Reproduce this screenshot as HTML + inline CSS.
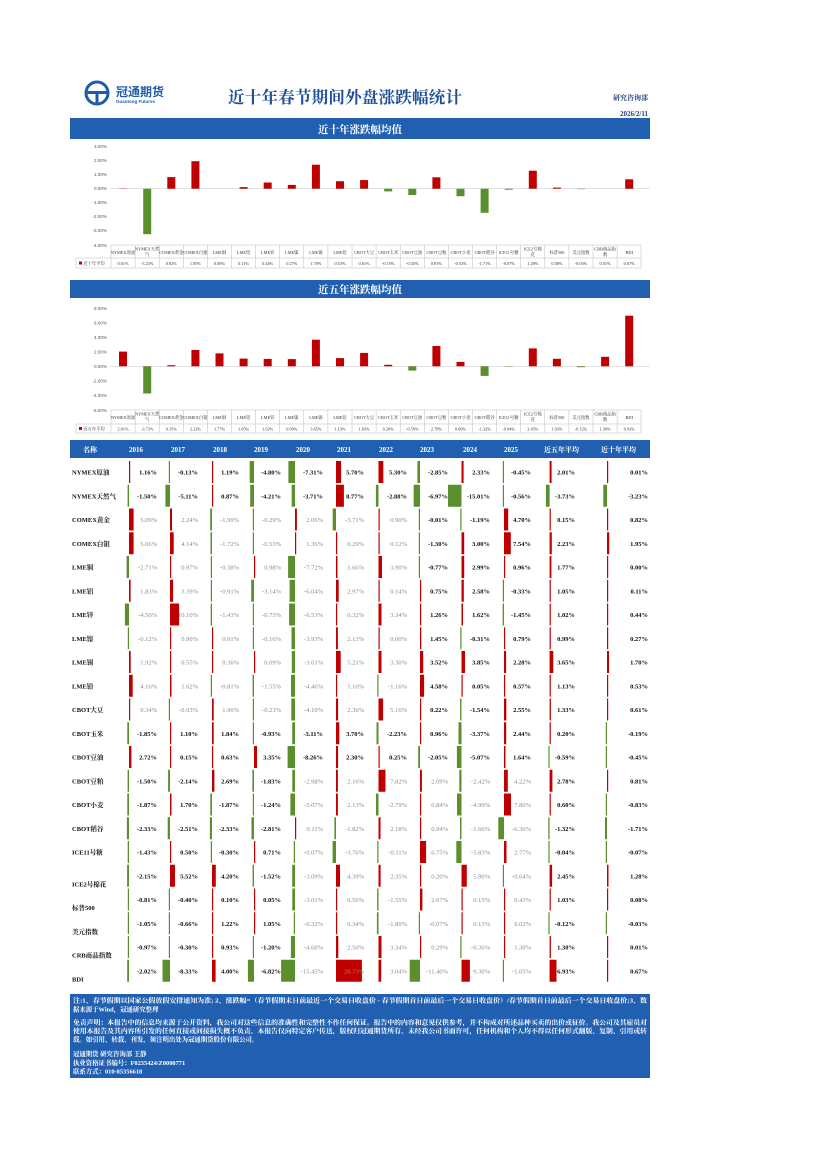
<!DOCTYPE html>
<html><head><meta charset="utf-8"><style>
html,body{margin:0;padding:0;background:#fff}
svg{display:block}
text{font-family:"Liberation Serif","Noto Serif CJK SC",serif}
.d{font-size:6.5px;font-weight:bold;fill:#111;text-anchor:end}
.f{font-size:6.5px;fill:#8a8a8a;text-anchor:end}
.n{font-size:6.5px;font-weight:bold;fill:#111}
.h{font-size:7px;font-weight:bold;fill:#fff}
.r{fill:#c00000}.g{fill:#5b8f2e}
.yl{font-size:4.6px;fill:#555;text-anchor:end;font-family:"Liberation Sans",sans-serif}
.cl{font-size:4.3px;fill:#333;text-anchor:middle;font-family:"Liberation Sans","Noto Sans CJK SC",sans-serif}
.ft{font-size:6.4px;font-weight:bold;fill:#fff}
</style></head><body>
<svg width="826" height="1169" viewBox="0 0 826 1169" xmlns="http://www.w3.org/2000/svg">
<rect width="826" height="1169" fill="#fff"/>
<!-- header -->
<circle cx="97" cy="93" r="11" fill="none" stroke="#1f5cab" stroke-width="3"/>
<rect x="87" y="91" width="20" height="3" fill="#1f5cab"/>
<rect x="95.5" y="91" width="3" height="12" fill="#1f5cab"/>
<text x="116" y="96" style="font-size:12px;font-weight:bold;fill:#1f5cab;font-family:'Liberation Sans','Noto Sans CJK SC',sans-serif">冠通期货</text>
<text x="116" y="103" style="font-size:4.5px;font-weight:bold;fill:#1f5cab;font-family:'Liberation Sans',sans-serif">Guantong Futures</text>
<text x="345" y="103" text-anchor="middle" style="font-size:16.5px;font-weight:bold;fill:#1f4e9a" textLength="234">近十年春节期间外盘涨跌幅统计</text>
<text x="648" y="100" text-anchor="end" style="font-size:7px;font-weight:bold;fill:#1f3f80">研究咨询部</text>
<text x="648" y="116" text-anchor="end" style="font-size:7px;font-weight:bold;fill:#1f3f80">2026/2/11</text>

<!-- band1 -->
<rect x="70" y="118" width="580" height="21" fill="#2160b0"/>
<text x="360" y="133" text-anchor="middle" class="h" style="font-size:10.5px">近十年涨跌幅均值</text>
<!-- chart1 -->
<g>
<text class="yl" x="107" y="148">3.00%</text><text class="yl" x="107" y="162">2.00%</text><text class="yl" x="107" y="176">1.00%</text><text class="yl" x="107" y="190">0.00%</text><text class="yl" x="107" y="204">-1.00%</text><text class="yl" x="107" y="218">-2.00%</text><text class="yl" x="107" y="232">-3.00%</text><text class="yl" x="107" y="247">-4.00%</text>
<line x1="110" y1="188.7" x2="650" y2="188.7" stroke="#d0d0d0" stroke-width="0.6"/>
<rect class="r" x="119" y="188.5" width="8" height="0.3"/>
<rect class="g" x="143.2" y="188.7" width="8" height="45.5"/>
<rect class="r" x="167.3" y="177.1" width="8" height="11.6"/>
<rect class="r" x="191.4" y="161.2" width="8" height="27.5"/>
<rect class="r" x="239.6" y="187.1" width="8" height="1.6"/>
<rect class="r" x="263.7" y="182.5" width="8" height="6.2"/>
<rect class="r" x="287.8" y="184.9" width="8" height="3.8"/>
<rect class="r" x="311.9" y="164.7" width="8" height="24"/>
<rect class="r" x="336" y="181.2" width="8" height="7.5"/>
<rect class="r" x="360.1" y="180.1" width="8" height="8.6"/>
<rect class="g" x="384.2" y="188.7" width="8" height="2.7"/>
<rect class="g" x="408.3" y="188.7" width="8" height="6.3"/>
<rect class="r" x="432.4" y="177.3" width="8" height="11.4"/>
<rect class="g" x="456.5" y="188.7" width="8" height="7.5"/>
<rect class="g" x="480.6" y="188.7" width="8" height="24.1"/>
<rect class="g" x="504.7" y="188.7" width="8" height="1"/>
<rect class="r" x="528.8" y="170.7" width="8" height="18"/>
<rect class="r" x="552.9" y="187.6" width="8" height="1.1"/>
<rect class="g" x="577" y="188.7" width="8" height="0.5"/>
<rect class="r" x="625.2" y="179.3" width="8" height="9.4"/>
<g stroke="#bbb" stroke-width="0.5" fill="none">
<rect x="111" y="245" width="530" height="23"/><line x1="76" y1="258" x2="641" y2="258"/><line x1="76" y1="258" x2="76" y2="268"/><line x1="76" y1="268" x2="111" y2="268"/>
<path d="M135.1 245V268M159.2 245V268M183.3 245V268M207.4 245V268M231.5 245V268M255.6 245V268M279.7 245V268M303.8 245V268M327.9 245V268M352 245V268M376.1 245V268M400.2 245V268M424.3 245V268M448.4 245V268M472.5 245V268M496.6 245V268M520.7 245V268M544.8 245V268M568.9 245V268M593 245V268M617.1 245V268"/>
</g>
<g class="cl">
<text x="123" y="254">NYMEX原油</text><text x="147.2" y="250.5">NYMEX天然</text><text x="147.2" y="256">气</text><text x="171.3" y="254">COMEX黄金</text><text x="195.4" y="254">COMEX白银</text><text x="219.5" y="254">LME铜</text><text x="243.6" y="254">LME铝</text><text x="267.7" y="254">LME锌</text><text x="291.8" y="254">LME镍</text><text x="315.9" y="254">LME锡</text><text x="340" y="254">LME铅</text><text x="364.1" y="254">CBOT大豆</text><text x="388.2" y="254">CBOT玉米</text><text x="412.3" y="254">CBOT豆油</text><text x="436.4" y="254">CBOT豆粕</text><text x="460.5" y="254">CBOT小麦</text><text x="484.6" y="254">CBOT稻谷</text><text x="508.7" y="254">ICE11号糖</text><text x="532.8" y="250.5">ICE2号棉</text><text x="532.8" y="256">花</text><text x="556.9" y="254">标普500</text><text x="581" y="254">美元指数</text><text x="605.1" y="250.5">CRB商品指</text><text x="605.1" y="256">数</text><text x="629.2" y="254">BDI</text>
<text x="123" y="265">0.01%</text><text x="147.2" y="265">-3.23%</text><text x="171.3" y="265">0.82%</text><text x="195.4" y="265">1.95%</text><text x="219.5" y="265">0.00%</text><text x="243.6" y="265">0.11%</text><text x="267.7" y="265">0.44%</text><text x="291.8" y="265">0.27%</text><text x="315.9" y="265">1.70%</text><text x="340" y="265">0.53%</text><text x="364.1" y="265">0.61%</text><text x="388.2" y="265">-0.19%</text><text x="412.3" y="265">-0.45%</text><text x="436.4" y="265">0.81%</text><text x="460.5" y="265">-0.53%</text><text x="484.6" y="265">-1.71%</text><text x="508.7" y="265">-0.07%</text><text x="532.8" y="265">1.28%</text><text x="556.9" y="265">0.08%</text><text x="581" y="265">-0.03%</text><text x="605.1" y="265">0.01%</text><text x="629.2" y="265">0.67%</text>
<text x="94" y="265">近十年平均</text>
</g>
<rect class="r" x="79" y="261.5" width="3" height="3"/>
</g>

<!-- band2 -->
<rect x="70" y="280" width="580" height="18" fill="#2160b0"/>
<text x="360" y="293" text-anchor="middle" class="h" style="font-size:10.5px">近五年涨跌幅均值</text>
<g>
<text class="yl" x="107" y="310">8.00%</text><text class="yl" x="107" y="324.5">6.00%</text><text class="yl" x="107" y="339">4.00%</text><text class="yl" x="107" y="353.5">2.00%</text><text class="yl" x="107" y="368">0.00%</text><text class="yl" x="107" y="382.5">-2.00%</text><text class="yl" x="107" y="397">-4.00%</text><text class="yl" x="107" y="412">-6.00%</text>
<line x1="110" y1="366.3" x2="650" y2="366.3" stroke="#d0d0d0" stroke-width="0.6"/>
<rect class="r" x="119" y="351.6" width="8" height="14.7"/>
<rect class="g" x="143.2" y="366.3" width="8" height="27.2"/>
<rect class="r" x="167.3" y="365.2" width="8" height="1.1"/>
<rect class="r" x="191.4" y="350" width="8" height="16.3"/>
<rect class="r" x="215.5" y="353.4" width="8" height="12.9"/>
<rect class="r" x="239.6" y="358.6" width="8" height="7.7"/>
<rect class="r" x="263.7" y="358.9" width="8" height="7.4"/>
<rect class="r" x="287.8" y="359.1" width="8" height="7.2"/>
<rect class="r" x="311.9" y="339.7" width="8" height="26.6"/>
<rect class="r" x="336" y="358.1" width="8" height="8.2"/>
<rect class="r" x="360.1" y="352.9" width="8" height="13.4"/>
<rect class="r" x="384.2" y="364.8" width="8" height="1.5"/>
<rect class="g" x="408.3" y="366.3" width="8" height="4.3"/>
<rect class="r" x="432.4" y="346" width="8" height="20.3"/>
<rect class="r" x="456.5" y="361.9" width="8" height="4.4"/>
<rect class="g" x="480.6" y="366.3" width="8" height="9.6"/>
<rect class="g" x="504.7" y="366.3" width="8" height="0.4"/>
<rect class="r" x="528.8" y="348.4" width="8" height="17.9"/>
<rect class="r" x="552.9" y="358.8" width="8" height="7.5"/>
<rect class="g" x="577" y="366.3" width="8" height="0.9"/>
<rect class="r" x="601.1" y="356.8" width="8" height="9.5"/>
<rect class="r" x="625.2" y="315.7" width="8" height="50.6"/>
<g stroke="#bbb" stroke-width="0.5" fill="none">
<rect x="111" y="410" width="530" height="23"/><line x1="76" y1="424" x2="641" y2="424"/><line x1="76" y1="424" x2="76" y2="433"/><line x1="76" y1="433" x2="111" y2="433"/>
<path d="M135.1 410V433M159.2 410V433M183.3 410V433M207.4 410V433M231.5 410V433M255.6 410V433M279.7 410V433M303.8 410V433M327.9 410V433M352 410V433M376.1 410V433M400.2 410V433M424.3 410V433M448.4 410V433M472.5 410V433M496.6 410V433M520.7 410V433M544.8 410V433M568.9 410V433M593 410V433M617.1 410V433"/>
</g>
<g class="cl">
<text x="123" y="419">NYMEX原油</text><text x="147.2" y="415.5">NYMEX天然</text><text x="147.2" y="421">气</text><text x="171.3" y="419">COMEX黄金</text><text x="195.4" y="419">COMEX白银</text><text x="219.5" y="419">LME铜</text><text x="243.6" y="419">LME铝</text><text x="267.7" y="419">LME锌</text><text x="291.8" y="419">LME镍</text><text x="315.9" y="419">LME锡</text><text x="340" y="419">LME铅</text><text x="364.1" y="419">CBOT大豆</text><text x="388.2" y="419">CBOT玉米</text><text x="412.3" y="419">CBOT豆油</text><text x="436.4" y="419">CBOT豆粕</text><text x="460.5" y="419">CBOT小麦</text><text x="484.6" y="419">CBOT稻谷</text><text x="508.7" y="419">ICE11号糖</text><text x="532.8" y="415.5">ICE2号棉</text><text x="532.8" y="421">花</text><text x="556.9" y="419">标普500</text><text x="581" y="419">美元指数</text><text x="605.1" y="415.5">CRB商品指</text><text x="605.1" y="421">数</text><text x="629.2" y="419">BDI</text>
<text x="123" y="430.5">2.01%</text><text x="147.2" y="430.5">-3.73%</text><text x="171.3" y="430.5">0.15%</text><text x="195.4" y="430.5">2.23%</text><text x="219.5" y="430.5">1.77%</text><text x="243.6" y="430.5">1.05%</text><text x="267.7" y="430.5">1.02%</text><text x="291.8" y="430.5">0.99%</text><text x="315.9" y="430.5">3.65%</text><text x="340" y="430.5">1.13%</text><text x="364.1" y="430.5">1.83%</text><text x="388.2" y="430.5">0.20%</text><text x="412.3" y="430.5">-0.59%</text><text x="436.4" y="430.5">2.78%</text><text x="460.5" y="430.5">0.60%</text><text x="484.6" y="430.5">-1.32%</text><text x="508.7" y="430.5">-0.04%</text><text x="532.8" y="430.5">2.45%</text><text x="556.9" y="430.5">1.03%</text><text x="581" y="430.5">-0.12%</text><text x="605.1" y="430.5">1.30%</text><text x="629.2" y="430.5">6.93%</text>
<text x="94" y="430.5">近五年平均</text>
</g>
<rect class="r" x="79" y="427" width="3" height="3"/>
</g>

<!-- table header -->
<rect x="70" y="440" width="580" height="18" fill="#2160b0"/>
<g class="h"><text x="83" y="452">名称</text><text x="129" y="452">2016</text><text x="171" y="452">2017</text><text x="213" y="452">2018</text><text x="254" y="452">2019</text><text x="296" y="452">2020</text><text x="337" y="452">2021</text><text x="379" y="452">2022</text><text x="420" y="452">2023</text><text x="463" y="452">2024</text><text x="504" y="452">2025</text><text x="544" y="452">近五年平均</text><text x="601" y="452">近十年平均</text></g>

<!-- rows -->
<g transform="translate(0,472)"><text class="n" x="72" y="2.5">NYMEX原油</text>
<rect class="r" x="129" y="-11" width="1.2" height="22"/><rect class="g" x="168.8" y="-11" width="1.2" height="22"/><rect class="r" x="212" y="-11" width="1.2" height="22"/><rect class="g" x="249.7" y="-11" width="4.3" height="22"/><rect class="g" x="288.4" y="-11" width="6.6" height="22"/><rect class="r" x="336" y="-11" width="5.1" height="22"/><rect class="r" x="378.5" y="-11" width="4.8" height="22"/><rect class="g" x="417.4" y="-11" width="2.6" height="22"/><rect class="r" x="461.5" y="-11" width="2.1" height="22"/><rect class="g" x="502.8" y="-11" width="1.2" height="22"/><rect class="r" x="549.6" y="-11" width="2" height="22"/><rect class="r" x="607" y="-11" width="1.2" height="22"/>
<text class="d" x="157" y="2.5">1.16%</text><text class="d" x="198" y="2.5">-0.13%</text><text class="d" x="239" y="2.5">1.19%</text><text class="d" x="281" y="2.5">-4.80%</text><text class="d" x="323" y="2.5">-7.31%</text><text class="d" x="364" y="2.5">5.70%</text><text class="d" x="407" y="2.5">5.30%</text><text class="d" x="448" y="2.5">-2.85%</text><text class="d" x="490" y="2.5">2.33%</text><text class="d" x="531" y="2.5">-0.45%</text><text class="d" x="575" y="2.5">2.01%</text><text class="d" x="648" y="2.5">0.01%</text></g>

<g transform="translate(0,495.75)"><text class="n" x="72" y="2.5">NYMEX天然气</text>
<rect class="g" x="127.6" y="-11" width="1.4" height="22"/><rect class="g" x="165.4" y="-11" width="4.6" height="22"/><rect class="r" x="212" y="-11" width="1.2" height="22"/><rect class="g" x="250.2" y="-11" width="3.8" height="22"/><rect class="g" x="291.7" y="-11" width="3.3" height="22"/><rect class="r" x="336" y="-11" width="7.9" height="22"/><rect class="g" x="375.9" y="-11" width="2.6" height="22"/><rect class="g" x="413.7" y="-11" width="6.3" height="22"/><rect class="g" x="448" y="-11" width="13.5" height="22"/><rect class="g" x="502.8" y="-11" width="1.2" height="22"/><rect class="g" x="545.9" y="-11" width="3.7" height="22"/><rect class="g" x="603.3" y="-11" width="3.7" height="22"/>
<text class="d" x="157" y="2.5">-1.50%</text><text class="d" x="198" y="2.5">-5.11%</text><text class="d" x="239" y="2.5">0.87%</text><text class="d" x="281" y="2.5">-4.21%</text><text class="d" x="323" y="2.5">-3.71%</text><text class="d" x="364" y="2.5">8.77%</text><text class="d" x="407" y="2.5">-2.88%</text><text class="d" x="448" y="2.5">-6.97%</text><text class="d" x="490" y="2.5">-15.01%</text><text class="d" x="531" y="2.5">-0.56%</text><text class="d" x="575" y="2.5">-3.73%</text><text class="d" x="648" y="2.5">-3.23%</text></g>

<g transform="translate(0,519.5)"><text class="n" x="72" y="2.5">COMEX黄金</text>
<rect class="r" x="129" y="-11" width="4.6" height="22"/><rect class="r" x="170" y="-11" width="2" height="22"/><rect class="g" x="210.2" y="-11" width="1.8" height="22"/><rect class="g" x="252.8" y="-11" width="1.2" height="22"/><rect class="r" x="295" y="-11" width="1.9" height="22"/><rect class="g" x="332.7" y="-11" width="3.3" height="22"/><rect class="r" x="378.5" y="-11" width="1.2" height="22"/><rect class="g" x="418.8" y="-11" width="1.2" height="22"/><rect class="g" x="460.3" y="-11" width="1.2" height="22"/><rect class="r" x="504" y="-11" width="4.2" height="22"/><rect class="r" x="549.6" y="-11" width="1.2" height="22"/><rect class="r" x="607" y="-11" width="1.2" height="22"/>
<text class="f" x="157" y="2.5">5.09%</text><text class="f" x="198" y="2.5">2.24%</text><text class="f" x="239" y="2.5">-1.99%</text><text class="f" x="281" y="2.5">-0.29%</text><text class="f" x="323" y="2.5">2.06%</text><text class="f" x="364" y="2.5">-3.71%</text><text class="f" x="407" y="2.5">0.90%</text><text class="d" x="448" y="2.5">-0.01%</text><text class="d" x="490" y="2.5">-1.19%</text><text class="d" x="531" y="2.5">4.70%</text><text class="d" x="575" y="2.5">0.15%</text><text class="d" x="648" y="2.5">0.82%</text></g>

<g transform="translate(0,543.25)"><text class="n" x="72" y="2.5">COMEX白银</text>
<rect class="r" x="129" y="-11" width="4.6" height="22"/><rect class="r" x="170" y="-11" width="3.7" height="22"/><rect class="g" x="210.5" y="-11" width="1.5" height="22"/><rect class="g" x="252.8" y="-11" width="1.2" height="22"/><rect class="r" x="295" y="-11" width="1.2" height="22"/><rect class="r" x="336" y="-11" width="1.2" height="22"/><rect class="r" x="378.5" y="-11" width="1.2" height="22"/><rect class="g" x="418.8" y="-11" width="1.2" height="22"/><rect class="r" x="461.5" y="-11" width="2.7" height="22"/><rect class="r" x="504" y="-11" width="6.8" height="22"/><rect class="r" x="549.6" y="-11" width="2.2" height="22"/><rect class="r" x="607" y="-11" width="2.2" height="22"/>
<text class="f" x="157" y="2.5">5.06%</text><text class="f" x="198" y="2.5">4.14%</text><text class="f" x="239" y="2.5">-1.72%</text><text class="f" x="281" y="2.5">-0.53%</text><text class="f" x="323" y="2.5">1.36%</text><text class="f" x="364" y="2.5">0.29%</text><text class="f" x="407" y="2.5">0.12%</text><text class="d" x="448" y="2.5">-1.30%</text><text class="d" x="490" y="2.5">3.00%</text><text class="d" x="531" y="2.5">7.54%</text><text class="d" x="575" y="2.5">2.23%</text><text class="d" x="648" y="2.5">1.95%</text></g>

<g transform="translate(0,567)"><text class="n" x="72" y="2.5">LME铜</text>
<rect class="g" x="126.6" y="-11" width="2.4" height="22"/><rect class="r" x="170" y="-11" width="1.2" height="22"/><rect class="g" x="210.8" y="-11" width="1.2" height="22"/><rect class="r" x="254" y="-11" width="1.2" height="22"/><rect class="g" x="288.1" y="-11" width="6.9" height="22"/><rect class="r" x="336" y="-11" width="1.5" height="22"/><rect class="r" x="378.5" y="-11" width="3.5" height="22"/><rect class="g" x="418.8" y="-11" width="1.2" height="22"/><rect class="r" x="461.5" y="-11" width="2.7" height="22"/><rect class="r" x="504" y="-11" width="1.2" height="22"/><rect class="r" x="549.6" y="-11" width="1.8" height="22"/><rect class="r" x="607" y="-11" width="1.2" height="22"/>
<text class="f" x="157" y="2.5">-2.71%</text><text class="f" x="198" y="2.5">0.97%</text><text class="f" x="239" y="2.5">-0.38%</text><text class="f" x="281" y="2.5">0.98%</text><text class="f" x="323" y="2.5">-7.72%</text><text class="f" x="364" y="2.5">1.66%</text><text class="f" x="407" y="2.5">3.90%</text><text class="d" x="448" y="2.5">-0.77%</text><text class="d" x="490" y="2.5">2.99%</text><text class="d" x="531" y="2.5">0.96%</text><text class="d" x="575" y="2.5">1.77%</text><text class="d" x="648" y="2.5">0.00%</text></g>

<g transform="translate(0,590.75)"><text class="n" x="72" y="2.5">LME铝</text>
<rect class="r" x="129" y="-11" width="1.6" height="22"/><rect class="r" x="170" y="-11" width="3.1" height="22"/><rect class="g" x="210.8" y="-11" width="1.2" height="22"/><rect class="g" x="251.2" y="-11" width="2.8" height="22"/><rect class="g" x="289.6" y="-11" width="5.4" height="22"/><rect class="r" x="336" y="-11" width="2.7" height="22"/><rect class="r" x="378.5" y="-11" width="1.2" height="22"/><rect class="r" x="420" y="-11" width="1.2" height="22"/><rect class="r" x="461.5" y="-11" width="2.3" height="22"/><rect class="g" x="502.8" y="-11" width="1.2" height="22"/><rect class="r" x="549.6" y="-11" width="1.2" height="22"/><rect class="r" x="607" y="-11" width="1.2" height="22"/>
<text class="f" x="157" y="2.5">1.83%</text><text class="f" x="198" y="2.5">3.39%</text><text class="f" x="239" y="2.5">-0.91%</text><text class="f" x="281" y="2.5">-3.14%</text><text class="f" x="323" y="2.5">-6.04%</text><text class="f" x="364" y="2.5">2.97%</text><text class="f" x="407" y="2.5">0.14%</text><text class="d" x="448" y="2.5">0.75%</text><text class="d" x="490" y="2.5">2.58%</text><text class="d" x="531" y="2.5">-0.33%</text><text class="d" x="575" y="2.5">1.05%</text><text class="d" x="648" y="2.5">0.11%</text></g>

<g transform="translate(0,614.5)"><text class="n" x="72" y="2.5">LME锌</text>
<rect class="g" x="124.9" y="-11" width="4.1" height="22"/><rect class="r" x="170" y="-11" width="9.1" height="22"/><rect class="g" x="210.7" y="-11" width="1.3" height="22"/><rect class="g" x="252.8" y="-11" width="1.2" height="22"/><rect class="g" x="289.1" y="-11" width="5.9" height="22"/><rect class="r" x="336" y="-11" width="1.2" height="22"/><rect class="r" x="378.5" y="-11" width="3" height="22"/><rect class="r" x="420" y="-11" width="1.2" height="22"/><rect class="r" x="461.5" y="-11" width="1.5" height="22"/><rect class="g" x="502.7" y="-11" width="1.3" height="22"/><rect class="r" x="549.6" y="-11" width="1.2" height="22"/><rect class="r" x="607" y="-11" width="1.2" height="22"/>
<text class="f" x="157" y="2.5">-4.50%</text><text class="f" x="198" y="2.5">10.10%</text><text class="f" x="239" y="2.5">-1.43%</text><text class="f" x="281" y="2.5">-0.73%</text><text class="f" x="323" y="2.5">-6.53%</text><text class="f" x="364" y="2.5">0.32%</text><text class="f" x="407" y="2.5">3.34%</text><text class="d" x="448" y="2.5">1.26%</text><text class="d" x="490" y="2.5">1.62%</text><text class="d" x="531" y="2.5">-1.45%</text><text class="d" x="575" y="2.5">1.02%</text><text class="d" x="648" y="2.5">0.44%</text></g>

<g transform="translate(0,638.25)"><text class="n" x="72" y="2.5">LME镍</text>
<rect class="g" x="127.8" y="-11" width="1.2" height="22"/><rect class="r" x="170" y="-11" width="1.2" height="22"/><rect class="r" x="212" y="-11" width="1.2" height="22"/><rect class="g" x="252.8" y="-11" width="1.2" height="22"/><rect class="g" x="291.5" y="-11" width="3.5" height="22"/><rect class="r" x="336" y="-11" width="1.9" height="22"/><rect class="r" x="378.5" y="-11" width="1.2" height="22"/><rect class="r" x="420" y="-11" width="1.3" height="22"/><rect class="g" x="460.3" y="-11" width="1.2" height="22"/><rect class="r" x="504" y="-11" width="1.2" height="22"/><rect class="r" x="549.6" y="-11" width="1.2" height="22"/><rect class="r" x="607" y="-11" width="1.2" height="22"/>
<text class="f" x="157" y="2.5">-0.12%</text><text class="f" x="198" y="2.5">0.90%</text><text class="f" x="239" y="2.5">0.91%</text><text class="f" x="281" y="2.5">-0.16%</text><text class="f" x="323" y="2.5">-3.93%</text><text class="f" x="364" y="2.5">2.13%</text><text class="f" x="407" y="2.5">0.00%</text><text class="d" x="448" y="2.5">1.45%</text><text class="d" x="490" y="2.5">-0.31%</text><text class="d" x="531" y="2.5">0.79%</text><text class="d" x="575" y="2.5">0.99%</text><text class="d" x="648" y="2.5">0.27%</text></g>

<g transform="translate(0,662)"><text class="n" x="72" y="2.5">LME锡</text>
<rect class="r" x="129" y="-11" width="1.7" height="22"/><rect class="r" x="170" y="-11" width="1.2" height="22"/><rect class="r" x="212" y="-11" width="1.2" height="22"/><rect class="r" x="254" y="-11" width="1.2" height="22"/><rect class="g" x="291.8" y="-11" width="3.2" height="22"/><rect class="r" x="336" y="-11" width="4.7" height="22"/><rect class="r" x="378.5" y="-11" width="3" height="22"/><rect class="r" x="420" y="-11" width="3.2" height="22"/><rect class="r" x="461.5" y="-11" width="3.5" height="22"/><rect class="r" x="504" y="-11" width="2.1" height="22"/><rect class="r" x="549.6" y="-11" width="3.7" height="22"/><rect class="r" x="607" y="-11" width="2" height="22"/>
<text class="f" x="157" y="2.5">1.92%</text><text class="f" x="198" y="2.5">0.55%</text><text class="f" x="239" y="2.5">0.36%</text><text class="f" x="281" y="2.5">0.09%</text><text class="f" x="323" y="2.5">-3.61%</text><text class="f" x="364" y="2.5">5.21%</text><text class="f" x="407" y="2.5">3.30%</text><text class="d" x="448" y="2.5">3.52%</text><text class="d" x="490" y="2.5">3.85%</text><text class="d" x="531" y="2.5">2.28%</text><text class="d" x="575" y="2.5">3.65%</text><text class="d" x="648" y="2.5">1.70%</text></g>

<g transform="translate(0,685.75)"><text class="n" x="72" y="2.5">LME铅</text>
<rect class="r" x="129" y="-11" width="3.7" height="22"/><rect class="r" x="170" y="-11" width="1.5" height="22"/><rect class="g" x="210.8" y="-11" width="1.2" height="22"/><rect class="g" x="252.6" y="-11" width="1.4" height="22"/><rect class="g" x="291" y="-11" width="4" height="22"/><rect class="r" x="336" y="-11" width="1.2" height="22"/><rect class="g" x="377.3" y="-11" width="1.2" height="22"/><rect class="r" x="420" y="-11" width="4.1" height="22"/><rect class="r" x="461.5" y="-11" width="1.2" height="22"/><rect class="r" x="504" y="-11" width="1.2" height="22"/><rect class="r" x="549.6" y="-11" width="1.2" height="22"/><rect class="r" x="607" y="-11" width="1.2" height="22"/>
<text class="f" x="157" y="2.5">4.16%</text><text class="f" x="198" y="2.5">1.62%</text><text class="f" x="239" y="2.5">-0.81%</text><text class="f" x="281" y="2.5">-1.55%</text><text class="f" x="323" y="2.5">-4.46%</text><text class="f" x="364" y="2.5">1.10%</text><text class="f" x="407" y="2.5">-1.16%</text><text class="d" x="448" y="2.5">4.58%</text><text class="d" x="490" y="2.5">0.05%</text><text class="d" x="531" y="2.5">0.57%</text><text class="d" x="575" y="2.5">1.13%</text><text class="d" x="648" y="2.5">0.53%</text></g>

<g transform="translate(0,709.5)"><text class="n" x="72" y="2.5">CBOT大豆</text>
<rect class="r" x="129" y="-11" width="1.2" height="22"/><rect class="g" x="168.8" y="-11" width="1.2" height="22"/><rect class="r" x="212" y="-11" width="1.7" height="22"/><rect class="g" x="252.8" y="-11" width="1.2" height="22"/><rect class="g" x="291.3" y="-11" width="3.7" height="22"/><rect class="r" x="336" y="-11" width="2.1" height="22"/><rect class="r" x="378.5" y="-11" width="4.6" height="22"/><rect class="r" x="420" y="-11" width="1.2" height="22"/><rect class="g" x="460.1" y="-11" width="1.4" height="22"/><rect class="r" x="504" y="-11" width="2.3" height="22"/><rect class="r" x="549.6" y="-11" width="1.3" height="22"/><rect class="r" x="607" y="-11" width="1.2" height="22"/>
<text class="f" x="157" y="2.5">0.34%</text><text class="f" x="198" y="2.5">-0.93%</text><text class="f" x="239" y="2.5">1.90%</text><text class="f" x="281" y="2.5">-0.23%</text><text class="f" x="323" y="2.5">-4.10%</text><text class="f" x="364" y="2.5">2.36%</text><text class="f" x="407" y="2.5">5.16%</text><text class="d" x="448" y="2.5">0.22%</text><text class="d" x="490" y="2.5">-1.54%</text><text class="d" x="531" y="2.5">2.55%</text><text class="d" x="575" y="2.5">1.33%</text><text class="d" x="648" y="2.5">0.61%</text></g>

<g transform="translate(0,733.25)"><text class="n" x="72" y="2.5">CBOT玉米</text>
<rect class="g" x="127.3" y="-11" width="1.7" height="22"/><rect class="r" x="170" y="-11" width="1.2" height="22"/><rect class="r" x="212" y="-11" width="1.7" height="22"/><rect class="g" x="252.8" y="-11" width="1.2" height="22"/><rect class="g" x="292.2" y="-11" width="2.8" height="22"/><rect class="r" x="336" y="-11" width="3.3" height="22"/><rect class="g" x="376.5" y="-11" width="2" height="22"/><rect class="r" x="420" y="-11" width="1.2" height="22"/><rect class="g" x="458.5" y="-11" width="3" height="22"/><rect class="r" x="504" y="-11" width="2.2" height="22"/><rect class="r" x="549.6" y="-11" width="1.2" height="22"/><rect class="g" x="605.8" y="-11" width="1.2" height="22"/>
<text class="d" x="157" y="2.5">-1.85%</text><text class="d" x="198" y="2.5">1.10%</text><text class="d" x="239" y="2.5">1.84%</text><text class="d" x="281" y="2.5">-0.93%</text><text class="d" x="323" y="2.5">-3.11%</text><text class="d" x="364" y="2.5">3.70%</text><text class="d" x="407" y="2.5">-2.23%</text><text class="d" x="448" y="2.5">0.96%</text><text class="d" x="490" y="2.5">-3.37%</text><text class="d" x="531" y="2.5">2.44%</text><text class="d" x="575" y="2.5">0.20%</text><text class="d" x="648" y="2.5">-0.19%</text></g>

<g transform="translate(0,757)"><text class="n" x="72" y="2.5">CBOT豆油</text>
<rect class="r" x="129" y="-11" width="2.4" height="22"/><rect class="r" x="170" y="-11" width="1.2" height="22"/><rect class="r" x="212" y="-11" width="1.2" height="22"/><rect class="r" x="254" y="-11" width="3" height="22"/><rect class="g" x="287.6" y="-11" width="7.4" height="22"/><rect class="r" x="336" y="-11" width="2.1" height="22"/><rect class="r" x="378.5" y="-11" width="1.2" height="22"/><rect class="g" x="418.2" y="-11" width="1.8" height="22"/><rect class="g" x="456.9" y="-11" width="4.6" height="22"/><rect class="r" x="504" y="-11" width="1.5" height="22"/><rect class="g" x="548.4" y="-11" width="1.2" height="22"/><rect class="g" x="605.8" y="-11" width="1.2" height="22"/>
<text class="d" x="157" y="2.5">2.72%</text><text class="d" x="198" y="2.5">0.15%</text><text class="d" x="239" y="2.5">0.63%</text><text class="d" x="281" y="2.5">3.35%</text><text class="d" x="323" y="2.5">-8.26%</text><text class="d" x="364" y="2.5">2.30%</text><text class="d" x="407" y="2.5">0.25%</text><text class="d" x="448" y="2.5">-2.05%</text><text class="d" x="490" y="2.5">-5.07%</text><text class="d" x="531" y="2.5">1.64%</text><text class="d" x="575" y="2.5">-0.59%</text><text class="d" x="648" y="2.5">-0.45%</text></g>

<g transform="translate(0,780.75)"><text class="n" x="72" y="2.5">CBOT豆粕</text>
<rect class="g" x="127.6" y="-11" width="1.4" height="22"/><rect class="g" x="168.1" y="-11" width="1.9" height="22"/><rect class="r" x="212" y="-11" width="2.4" height="22"/><rect class="g" x="252.4" y="-11" width="1.6" height="22"/><rect class="g" x="292.3" y="-11" width="2.7" height="22"/><rect class="r" x="336" y="-11" width="1.9" height="22"/><rect class="r" x="378.5" y="-11" width="7" height="22"/><rect class="r" x="420" y="-11" width="1.9" height="22"/><rect class="g" x="459.3" y="-11" width="2.2" height="22"/><rect class="r" x="504" y="-11" width="3.8" height="22"/><rect class="r" x="549.6" y="-11" width="2.8" height="22"/><rect class="r" x="607" y="-11" width="1.2" height="22"/>
<text class="d" x="157" y="2.5">-1.50%</text><text class="d" x="198" y="2.5">-2.14%</text><text class="d" x="239" y="2.5">2.69%</text><text class="d" x="281" y="2.5">-1.83%</text><text class="f" x="323" y="2.5">-2.98%</text><text class="f" x="364" y="2.5">2.16%</text><text class="f" x="407" y="2.5">7.82%</text><text class="f" x="448" y="2.5">2.09%</text><text class="f" x="490" y="2.5">-2.42%</text><text class="f" x="531" y="2.5">4.22%</text><text class="d" x="575" y="2.5">2.78%</text><text class="d" x="648" y="2.5">0.81%</text></g>

<g transform="translate(0,804.5)"><text class="n" x="72" y="2.5">CBOT小麦</text>
<rect class="g" x="127.3" y="-11" width="1.7" height="22"/><rect class="r" x="170" y="-11" width="1.5" height="22"/><rect class="g" x="210.3" y="-11" width="1.7" height="22"/><rect class="g" x="252.8" y="-11" width="1.2" height="22"/><rect class="g" x="290.4" y="-11" width="4.6" height="22"/><rect class="r" x="336" y="-11" width="1.9" height="22"/><rect class="g" x="376" y="-11" width="2.5" height="22"/><rect class="r" x="420" y="-11" width="1.2" height="22"/><rect class="g" x="457" y="-11" width="4.5" height="22"/><rect class="r" x="504" y="-11" width="7" height="22"/><rect class="r" x="549.6" y="-11" width="1.2" height="22"/><rect class="g" x="605.8" y="-11" width="1.2" height="22"/>
<text class="d" x="157" y="2.5">-1.87%</text><text class="d" x="198" y="2.5">1.70%</text><text class="d" x="239" y="2.5">-1.87%</text><text class="d" x="281" y="2.5">-1.24%</text><text class="f" x="323" y="2.5">-5.07%</text><text class="f" x="364" y="2.5">2.13%</text><text class="f" x="407" y="2.5">-2.79%</text><text class="f" x="448" y="2.5">0.84%</text><text class="f" x="490" y="2.5">-4.99%</text><text class="f" x="531" y="2.5">7.80%</text><text class="d" x="575" y="2.5">0.60%</text><text class="d" x="648" y="2.5">-0.83%</text></g>

<g transform="translate(0,828.25)"><text class="n" x="72" y="2.5">CBOT稻谷</text>
<rect class="g" x="126.9" y="-11" width="2.1" height="22"/><rect class="g" x="167.7" y="-11" width="2.3" height="22"/><rect class="g" x="209.9" y="-11" width="2.1" height="22"/><rect class="g" x="251.5" y="-11" width="2.5" height="22"/><rect class="r" x="295" y="-11" width="1.2" height="22"/><rect class="g" x="334.4" y="-11" width="1.6" height="22"/><rect class="r" x="378.5" y="-11" width="2" height="22"/><rect class="r" x="420" y="-11" width="1.2" height="22"/><rect class="g" x="460" y="-11" width="1.5" height="22"/><rect class="g" x="498.3" y="-11" width="5.7" height="22"/><rect class="g" x="548.3" y="-11" width="1.3" height="22"/><rect class="g" x="605" y="-11" width="2" height="22"/>
<text class="d" x="157" y="2.5">-2.33%</text><text class="d" x="198" y="2.5">-2.51%</text><text class="d" x="239" y="2.5">-2.33%</text><text class="d" x="281" y="2.5">-2.81%</text><text class="f" x="323" y="2.5">0.11%</text><text class="f" x="364" y="2.5">-1.82%</text><text class="f" x="407" y="2.5">2.18%</text><text class="f" x="448" y="2.5">0.94%</text><text class="f" x="490" y="2.5">-1.66%</text><text class="f" x="531" y="2.5">-6.36%</text><text class="d" x="575" y="2.5">-1.32%</text><text class="d" x="648" y="2.5">-1.71%</text></g>

<g transform="translate(0,852)"><text class="n" x="72" y="2.5">ICE11号糖</text>
<rect class="g" x="127.7" y="-11" width="1.3" height="22"/><rect class="r" x="170" y="-11" width="1.2" height="22"/><rect class="g" x="210.8" y="-11" width="1.2" height="22"/><rect class="r" x="254" y="-11" width="1.2" height="22"/><rect class="g" x="293.8" y="-11" width="1.2" height="22"/><rect class="g" x="332.6" y="-11" width="3.4" height="22"/><rect class="g" x="377.3" y="-11" width="1.2" height="22"/><rect class="r" x="420" y="-11" width="6.1" height="22"/><rect class="g" x="456.3" y="-11" width="5.2" height="22"/><rect class="r" x="504" y="-11" width="2.5" height="22"/><rect class="g" x="548.4" y="-11" width="1.2" height="22"/><rect class="g" x="605.8" y="-11" width="1.2" height="22"/>
<text class="d" x="157" y="2.5">-1.43%</text><text class="d" x="198" y="2.5">0.50%</text><text class="d" x="239" y="2.5">-0.30%</text><text class="d" x="281" y="2.5">0.71%</text><text class="f" x="323" y="2.5">-0.07%</text><text class="f" x="364" y="2.5">-3.76%</text><text class="f" x="407" y="2.5">-0.11%</text><text class="f" x="448" y="2.5">6.75%</text><text class="f" x="490" y="2.5">-5.83%</text><text class="f" x="531" y="2.5">2.77%</text><text class="d" x="575" y="2.5">-0.04%</text><text class="d" x="648" y="2.5">-0.07%</text></g>

<g transform="translate(0,875.75)"><text class="n" x="72" y="10.5">ICE2号棉花</text>
<rect class="g" x="127.1" y="-11" width="1.9" height="22"/><rect class="r" x="170" y="-11" width="5" height="22"/><rect class="r" x="212" y="-11" width="3.8" height="22"/><rect class="g" x="252.6" y="-11" width="1.4" height="22"/><rect class="g" x="292.2" y="-11" width="2.8" height="22"/><rect class="r" x="336" y="-11" width="4" height="22"/><rect class="r" x="378.5" y="-11" width="2.1" height="22"/><rect class="r" x="420" y="-11" width="1.2" height="22"/><rect class="r" x="461.5" y="-11" width="5.3" height="22"/><rect class="g" x="502.8" y="-11" width="1.2" height="22"/><rect class="r" x="549.6" y="-11" width="2.5" height="22"/><rect class="r" x="607" y="-11" width="1.5" height="22"/>
<text class="d" x="157" y="2.5">-2.15%</text><text class="d" x="198" y="2.5">5.52%</text><text class="d" x="239" y="2.5">4.20%</text><text class="d" x="281" y="2.5">-1.52%</text><text class="f" x="323" y="2.5">-3.09%</text><text class="f" x="364" y="2.5">4.39%</text><text class="f" x="407" y="2.5">2.35%</text><text class="f" x="448" y="2.5">0.20%</text><text class="f" x="490" y="2.5">5.90%</text><text class="f" x="531" y="2.5">-0.64%</text><text class="d" x="575" y="2.5">2.45%</text><text class="d" x="648" y="2.5">1.28%</text></g>

<g transform="translate(0,899.5)"><text class="n" x="72" y="10.5">标普500</text>
<rect class="g" x="127.8" y="-11" width="1.2" height="22"/><rect class="g" x="168.8" y="-11" width="1.2" height="22"/><rect class="r" x="212" y="-11" width="1.2" height="22"/><rect class="r" x="254" y="-11" width="1.2" height="22"/><rect class="g" x="292.3" y="-11" width="2.7" height="22"/><rect class="r" x="336" y="-11" width="1.2" height="22"/><rect class="g" x="377.1" y="-11" width="1.4" height="22"/><rect class="r" x="420" y="-11" width="2.4" height="22"/><rect class="r" x="461.5" y="-11" width="1.2" height="22"/><rect class="r" x="504" y="-11" width="1.2" height="22"/><rect class="r" x="549.6" y="-11" width="1.2" height="22"/><rect class="r" x="607" y="-11" width="1.2" height="22"/>
<text class="d" x="157" y="2.5">-0.81%</text><text class="d" x="198" y="2.5">-0.40%</text><text class="d" x="239" y="2.5">0.10%</text><text class="d" x="281" y="2.5">0.05%</text><text class="f" x="323" y="2.5">-3.01%</text><text class="f" x="364" y="2.5">0.56%</text><text class="f" x="407" y="2.5">-1.55%</text><text class="f" x="448" y="2.5">2.67%</text><text class="f" x="490" y="2.5">0.15%</text><text class="f" x="531" y="2.5">0.43%</text><text class="d" x="575" y="2.5">1.03%</text><text class="d" x="648" y="2.5">0.08%</text></g>

<g transform="translate(0,923.25)"><text class="n" x="72" y="10.5">美元指数</text>
<rect class="g" x="127.8" y="-11" width="1.2" height="22"/><rect class="g" x="168.8" y="-11" width="1.2" height="22"/><rect class="r" x="212" y="-11" width="1.2" height="22"/><rect class="r" x="254" y="-11" width="1.2" height="22"/><rect class="g" x="293.8" y="-11" width="1.2" height="22"/><rect class="r" x="336" y="-11" width="1.2" height="22"/><rect class="g" x="376.9" y="-11" width="1.6" height="22"/><rect class="g" x="418.8" y="-11" width="1.2" height="22"/><rect class="r" x="461.5" y="-11" width="1.2" height="22"/><rect class="r" x="504" y="-11" width="1.2" height="22"/><rect class="g" x="548.4" y="-11" width="1.2" height="22"/><rect class="g" x="605.8" y="-11" width="1.2" height="22"/>
<text class="d" x="157" y="2.5">-1.05%</text><text class="d" x="198" y="2.5">-0.66%</text><text class="d" x="239" y="2.5">1.22%</text><text class="d" x="281" y="2.5">1.05%</text><text class="f" x="323" y="2.5">-0.32%</text><text class="f" x="364" y="2.5">0.34%</text><text class="f" x="407" y="2.5">-1.80%</text><text class="f" x="448" y="2.5">-0.07%</text><text class="f" x="490" y="2.5">0.13%</text><text class="f" x="531" y="2.5">0.02%</text><text class="d" x="575" y="2.5">-0.12%</text><text class="d" x="648" y="2.5">-0.03%</text></g>

<g transform="translate(0,947)"><text class="n" x="72" y="10.5">CRB商品指数</text>
<rect class="g" x="127.8" y="-11" width="1.2" height="22"/><rect class="g" x="168.8" y="-11" width="1.2" height="22"/><rect class="r" x="212" y="-11" width="1.2" height="22"/><rect class="g" x="252.8" y="-11" width="1.2" height="22"/><rect class="g" x="290.9" y="-11" width="4.1" height="22"/><rect class="r" x="336" y="-11" width="2.3" height="22"/><rect class="r" x="378.5" y="-11" width="3" height="22"/><rect class="r" x="420" y="-11" width="1.2" height="22"/><rect class="g" x="460.3" y="-11" width="1.2" height="22"/><rect class="r" x="504" y="-11" width="1.2" height="22"/><rect class="r" x="549.6" y="-11" width="1.3" height="22"/><rect class="r" x="607" y="-11" width="1.2" height="22"/>
<text class="d" x="157" y="2.5">-0.97%</text><text class="d" x="198" y="2.5">-0.30%</text><text class="d" x="239" y="2.5">0.93%</text><text class="d" x="281" y="2.5">-1.20%</text><text class="f" x="323" y="2.5">-4.60%</text><text class="f" x="364" y="2.5">2.50%</text><text class="f" x="407" y="2.5">3.34%</text><text class="f" x="448" y="2.5">0.29%</text><text class="f" x="490" y="2.5">-0.36%</text><text class="f" x="531" y="2.5">1.30%</text><text class="d" x="575" y="2.5">1.30%</text><text class="d" x="648" y="2.5">0.01%</text></g>

<g transform="translate(0,970.75)"><text class="n" x="72" y="10.5">BDI</text>
<rect class="g" x="127.2" y="-11" width="1.8" height="22"/><rect class="g" x="162.5" y="-11" width="7.5" height="22"/><rect class="r" x="212" y="-11" width="3.6" height="22"/><rect class="g" x="247.9" y="-11" width="6.1" height="22"/><rect class="g" x="281.1" y="-11" width="13.9" height="22"/><rect class="r" x="336" y="-11" width="25.9" height="22"/><rect class="r" x="378.5" y="-11" width="2.7" height="22"/><rect class="g" x="409.7" y="-11" width="10.3" height="22"/><rect class="r" x="461.5" y="-11" width="8.4" height="22"/><rect class="g" x="502.8" y="-11" width="1.2" height="22"/><rect class="r" x="549.6" y="-11" width="6.9" height="22"/><rect class="r" x="607" y="-11" width="1.2" height="22"/>
<text class="d" x="157" y="2.5">-2.02%</text><text class="d" x="198" y="2.5">-8.33%</text><text class="d" x="239" y="2.5">4.00%</text><text class="d" x="281" y="2.5">-6.82%</text><text class="f" x="323" y="2.5">-15.45%</text><text class="f" x="364" y="2.5">28.73%</text><text class="f" x="407" y="2.5">3.04%</text><text class="f" x="448" y="2.5">-11.40%</text><text class="f" x="490" y="2.5">9.30%</text><text class="f" x="531" y="2.5">-1.05%</text><text class="d" x="575" y="2.5">6.93%</text><text class="d" x="648" y="2.5">0.67%</text></g>

<!-- footer -->
<rect x="70" y="994" width="580" height="84" fill="#2160b0"/>
<g class="ft">
<text x="73" y="1002.5" textLength="574" lengthAdjust="spacingAndGlyphs">注:1、春节假期以国家公假放假安排通知为准; 2、涨跌幅=（春节假期末日前最近一个交易日收盘价 - 春节假期首日前最后一个交易日收盘价）/春节假期首日前最后一个交易日收盘价;3、数</text>
<text x="73" y="1011.5">据来源于Wind，冠通研究整理</text>
<text x="73" y="1024.5" textLength="574" lengthAdjust="spacingAndGlyphs">免责声明：本报告中的信息均来源于公开资料，我公司对这些信息的准确性和完整性不作任何保证。报告中的内容和意见仅供参考，并不构成对所述品种买卖的出价或征价。我公司及其雇员对</text>
<text x="73" y="1033" textLength="574" lengthAdjust="spacingAndGlyphs">使用本报告及其内容所引发的任何直接或间接损失概不负责。本报告仅向特定客户传送，版权归冠通期货所有。未经我公司书面许可，任何机构和个人均不得以任何形式翻版、复制、引用或转</text>
<text x="73" y="1041.5">载。如引用、转载、刊发，须注明出处为冠通期货股份有限公司。</text>
<text x="73" y="1056">冠通期货 研究咨询部 王静</text>
<text x="73" y="1065">执业资格证书编号：F0235424/Z0000771</text>
<text x="73" y="1073.5">联系方式：010-85356618</text>
</g>
</svg>
</body></html>
